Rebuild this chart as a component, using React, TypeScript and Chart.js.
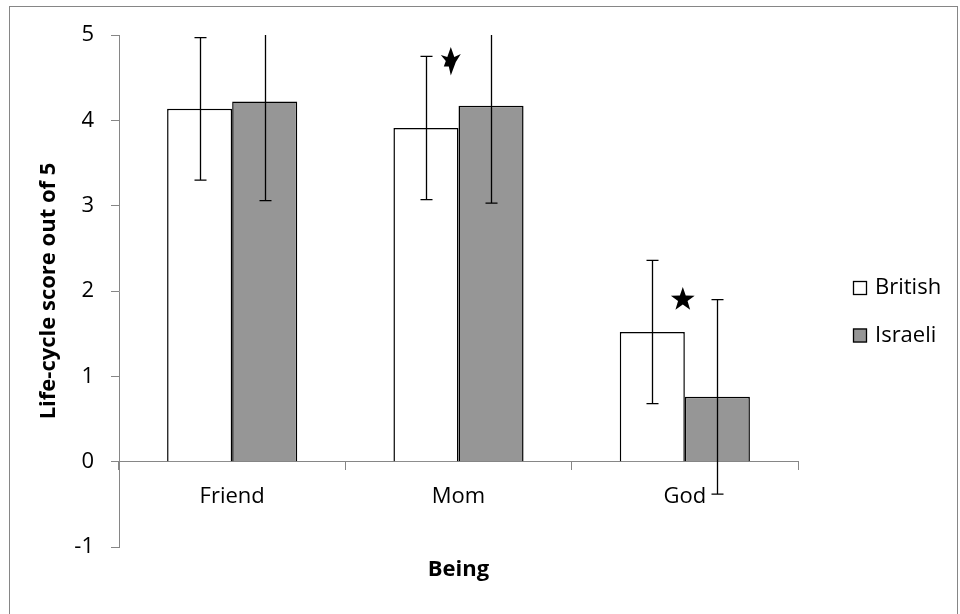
import React, { useEffect, useRef } from 'react';
import { Chart, registerables } from 'chart.js';

Chart.register(...registerables);

const categories = ['Friend', 'Mom', 'God'];
const seriesNames = ['British', 'Israeli'];
const britishValues = [4.135, 3.91, 1.52];
const israeliValues = [4.22, 4.17, 0.76];
const britishErrors = [0.835, 0.84, 0.84];
const israeliErrors = [1.16, 1.14, 1.14];
const yMin = -1;
const yMax = 5;
const yStep = 1;
const xTitle = 'Being';
const yTitle = 'Life-cycle score out of 5';
// significance stars: x as fractional category index, y as value
const starX = [0.966, 1.991];
const starY = [4.69, 1.9];
const starKinds = ['skewed', 'regular'];

const FONT = "'Open Sans', 'DejaVu Sans', sans-serif";
const AXIS_GRAY = '#868686';

function drawRegularStar(ctx: CanvasRenderingContext2D, cx: number, cy: number, r: number) {
  const inner = r * 0.4;
  ctx.beginPath();
  for (let i = 0; i < 10; i++) {
    const rad = i % 2 === 0 ? r : inner;
    const a = -Math.PI / 2 + (i * Math.PI) / 5;
    const x = cx + rad * Math.cos(a);
    const y = cy + rad * Math.sin(a);
    if (i === 0) ctx.moveTo(x, y);
    else ctx.lineTo(x, y);
  }
  ctx.closePath();
  ctx.fill();
}

function drawSkewedStar(ctx: CanvasRenderingContext2D, cx: number, cy: number) {
  const pts: [number, number][] = [
    [0, -14.5],
    [3.5, -4.5],
    [10, -7.5],
    [5, 0.5],
    [0, 14],
    [-2, 5],
    [-7, 5],
    [-5, -0.5],
    [-10, -6.5],
    [-3.5, -4.5],
  ];
  ctx.beginPath();
  pts.forEach(([dx, dy], i) => {
    if (i === 0) ctx.moveTo(cx + dx, cy + dy);
    else ctx.lineTo(cx + dx, cy + dy);
  });
  ctx.closePath();
  ctx.fill();
}

const extrasPlugin = {
  id: 'extras',
  beforeDraw(chart: any) {
    const { ctx, width, height } = chart;
    ctx.save();
    ctx.fillStyle = '#ffffff';
    ctx.fillRect(0, 0, width, height);
    ctx.strokeStyle = AXIS_GRAY;
    ctx.lineWidth = 1;
    ctx.strokeRect(9.5, 6.5, 948, height + 10);
    ctx.restore();
  },
  afterDatasetsDraw(chart: any) {
    const { ctx, chartArea, scales } = chart;
    const y = scales.y;
    ctx.save();
    ctx.beginPath();
    ctx.rect(chartArea.left, chartArea.top, chartArea.right - chartArea.left, chartArea.bottom - chartArea.top);
    ctx.clip();
    ctx.strokeStyle = '#000';
    ctx.lineWidth = 1.3;
    chart.data.datasets.forEach((ds: any, di: number) => {
      const meta = chart.getDatasetMeta(di);
      meta.data.forEach((bar: any, i: number) => {
        const v = ds.data[i];
        const e = ds.errors[i];
        const x = Math.round(bar.x) + 0.5;
        const yTop = y.getPixelForValue(v + e);
        const yBot = y.getPixelForValue(v - e);
        ctx.beginPath();
        ctx.moveTo(x, yTop);
        ctx.lineTo(x, yBot);
        ctx.moveTo(x - 6, yTop);
        ctx.lineTo(x + 6, yTop);
        ctx.moveTo(x - 6, yBot);
        ctx.lineTo(x + 6, yBot);
        ctx.stroke();
      });
    });
    ctx.restore();

    // stars
    ctx.save();
    ctx.fillStyle = '#000';
    starX.forEach((sx, i) => {
      const px = scales.x.getPixelForValue(sx);
      const py = y.getPixelForValue(starY[i]);
      if (starKinds[i] === 'regular') drawRegularStar(ctx, px, py, 12.5);
      else drawSkewedStar(ctx, px, py);
    });
    ctx.restore();
  },
  afterDraw(chart: any) {
    const { ctx } = chart;
    ctx.save();
    ctx.font = `22px ${FONT}`;
    ctx.textBaseline = 'middle';
    ctx.textAlign = 'left';
    chart.data.datasets.forEach((ds: any, i: number) => {
      const cy = 288 + i * 47.5;
      ctx.fillStyle = ds.backgroundColor;
      ctx.fillRect(853, cy - 7, 14, 14);
      ctx.strokeStyle = '#000';
      ctx.lineWidth = 1.3;
      ctx.strokeRect(853.5, cy - 6.5, 13, 13);
      ctx.fillStyle = '#000';
      ctx.fillText(ds.label, 875, cy);
    });
    ctx.restore();
  },
};

export default function App() {
  const canvasRef = useRef<HTMLCanvasElement | null>(null);

  useEffect(() => {
    if (!canvasRef.current) return;
    Chart.defaults.font.family = FONT;
    Chart.defaults.color = '#000';
    const chart = new Chart(canvasRef.current, {
      type: 'bar',
      data: {
        labels: categories,
        datasets: [
          {
            label: seriesNames[0],
            data: britishValues,
            errors: britishErrors,
            backgroundColor: '#ffffff',
            borderColor: '#000000',
            borderWidth: 1.5,
          } as any,
          {
            label: seriesNames[1],
            data: israeliValues,
            errors: israeliErrors,
            backgroundColor: '#969696',
            borderColor: '#000000',
            borderWidth: 1.5,
          } as any,
        ],
      },
      options: {
        animation: false,
        responsive: false,
        devicePixelRatio: 1,
        layout: { padding: { left: 20, top: 35, right: 162, bottom: 67 } },
        datasets: { bar: { categoryPercentage: 0.575, barPercentage: 1.0 } },
        plugins: {
          legend: { display: false },
          tooltip: { enabled: false },
        },
        scales: {
          x: {
            type: 'category',
            axis: 'x',
            position: { y: 0 },
            offset: true,
            grid: {
              offset: true,
              drawOnChartArea: false,
              drawTicks: true,
              tickLength: 8,
              color: AXIS_GRAY,
            },
            border: { color: AXIS_GRAY, width: 1 },
            ticks: { padding: 14, font: { size: 22 }, color: '#000' },
            title: {
              display: true,
              text: xTitle,
              color: '#000',
              font: { size: 22, weight: 'bold' },
              padding: { top: 32, bottom: 0 },
            },
          } as any,
          y: {
            type: 'linear',
            position: 'left',
            min: yMin,
            max: yMax,
            ticks: { stepSize: yStep, padding: 17, font: { size: 22 }, color: '#000' },
            grid: {
              drawOnChartArea: false,
              drawTicks: true,
              tickLength: 8,
              color: AXIS_GRAY,
            },
            border: { color: AXIS_GRAY, width: 1 },
            title: {
              display: true,
              text: yTitle,
              color: '#000',
              font: { size: 22, weight: 'bold' },
              padding: { top: 16, bottom: 0 },
            },
            afterFit: (scale: any) => {
              scale.width = 99;
            },
          },
        },
      },
      plugins: [extrasPlugin],
    });
    return () => chart.destroy();
  }, []);

  return (
    <div style={{ position: 'fixed', left: 0, top: 0, width: 960, height: 614, background: '#fff' }}>
      <canvas ref={canvasRef} width={960} height={614} style={{ display: 'block', width: 960, height: 614 }} />
    </div>
  );
}
